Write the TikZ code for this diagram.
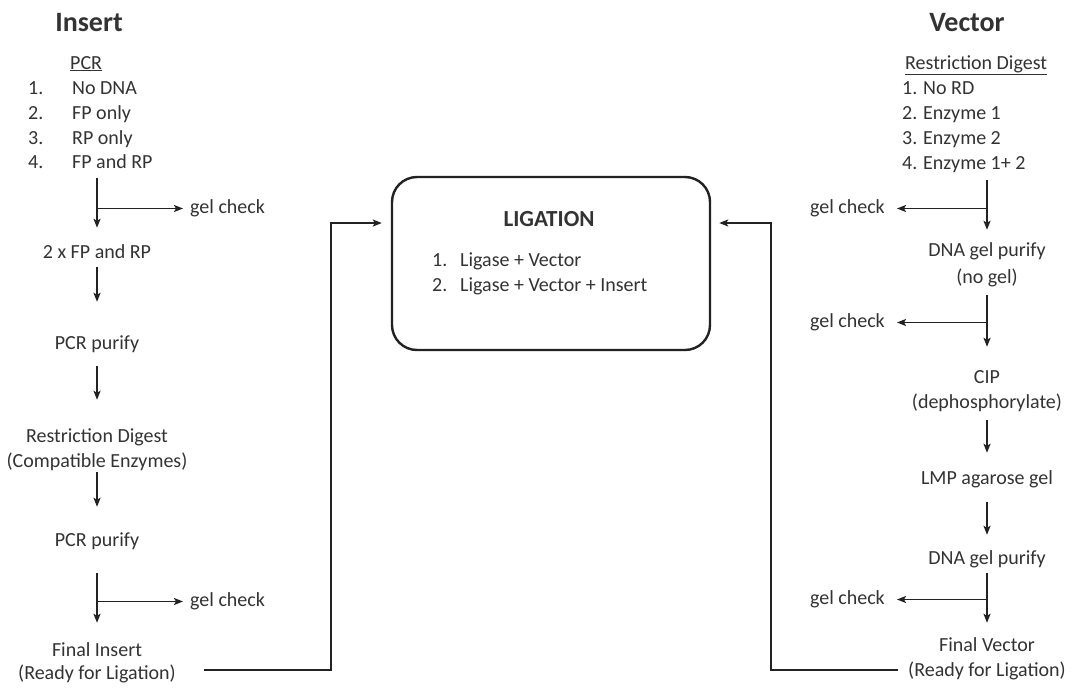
\documentclass[tikz,border=0pt]{standalone}
\usepackage{fontspec}
\setmainfont{Carlito}
\usetikzlibrary{arrows.meta}
\definecolor{tcol}{HTML}{333333}
\definecolor{lcol}{HTML}{222222}
\begin{document}
\begin{tikzpicture}[x=1pt,y=-1pt,
  txt/.style={inner sep=0pt, text height=14pt, text depth=5pt, font=\fontsize{20}{24}\selectfont, text=tcol},
  ttl/.style={inner sep=0pt, font=\fontsize{28}{32}\selectfont\bfseries, text=tcol},
  arr/.style={draw=lcol, line width=1.9pt, -{Stealth[length=9pt,width=7pt,inset=2pt]}},
  box/.style={draw=lcol, line width=2.4pt, rounded corners=25pt, minimum width=318pt, minimum height=173pt}]
\useasboundingbox (0,0) rectangle (1075,688);
\fill[white] (0,0) rectangle (1075,688);
\coordinate (L) at (97,0);
\coordinate (R) at (987,0);
% ---------------- Insert column
\node[ttl, anchor=base] (tI) at (89,31) {Insert};
\node[txt, anchor=base west] (hI) at (70,69) {\underline{PCR}};
\node[txt, anchor=base west] (nI1) at (28,94) {1.};
\node[txt, anchor=base west] (nI2) at (28,119) {2.};
\node[txt, anchor=base west] (nI3) at (28,144) {3.};
\node[txt, anchor=base west] (nI4) at (28,168) {4.};
\node[txt, anchor=base west] (iI1) at (72,94) {No DNA};
\node[txt, anchor=base west] (iI2) at (72,119) {FP only};
\node[txt, anchor=base west] (iI3) at (72,144) {RP only};
\node[txt, anchor=base west] (iI4) at (72,168) {FP and RP};
\node[txt, anchor=base west] (gL1) at (190,213) {gel check};
\node[txt, anchor=base] (fp2) at (97,258) {2 x FP and RP};
\node[txt, anchor=base] (pp1) at (97,349) {PCR purify};
\node[txt, anchor=base] (rd1) at (97,442) {Restriction Digest};
\node[txt, anchor=base] (rd2) at (97,467) {(Compatible Enzymes)};
\node[txt, anchor=base] (pp2) at (97,546) {PCR purify};
\node[txt, anchor=base west] (gL2) at (190,606) {gel check};
\node[txt, anchor=base] (fi1) at (97,656) {Final Insert};
\node[txt, anchor=base] (fi2) at (97,679) {(Ready for Ligation)};
% ---------------- Vector column
\node[ttl, anchor=base] (tV) at (967,31) {Vector};
\node[txt, anchor=base west] (hV) at (905,69) {\underline{Restriction Digest}};
\node[txt, anchor=base west] (nV1) at (902,94) {1.};
\node[txt, anchor=base west] (nV2) at (902,119) {2.};
\node[txt, anchor=base west] (nV3) at (902,144) {3.};
\node[txt, anchor=base west] (nV4) at (902,169) {4.};
\node[txt, anchor=base west] (iV1) at (923,94) {No RD};
\node[txt, anchor=base west] (iV2) at (923,119) {Enzyme 1};
\node[txt, anchor=base west] (iV3) at (923,144) {Enzyme 2};
\node[txt, anchor=base west] (iV4) at (923,169) {Enzyme 1+ 2};
\node[txt, anchor=base east] (gR1) at (885,213) {gel check};
\node[txt, anchor=base] (dg1) at (987,256) {DNA gel purify};
\node[txt, anchor=base] (dg1b) at (987,283) {(no gel)};
\node[txt, anchor=base east] (gR2) at (885,327) {gel check};
\node[txt, anchor=base] (cip) at (987,383) {CIP};
\node[txt, anchor=base] (cipb) at (987,408) {(dephosphorylate)};
\node[txt, anchor=base] (lmp) at (987,484) {LMP agarose gel};
\node[txt, anchor=base] (dg2) at (987,564) {DNA gel purify};
\node[txt, anchor=base east] (gR3) at (885,604) {gel check};
\node[txt, anchor=base] (fv1) at (987,651) {Final Vector};
\node[txt, anchor=base] (fv2) at (987,676) {(Ready for Ligation)};
% ---------------- Ligation box
\node[box] (lig) at (551,263.5) {};
\node[inner sep=0pt, anchor=base, font=\fontsize{23}{27}\selectfont\bfseries, text=tcol] (ligt) at (549,226) {LIGATION};
\node[txt, anchor=base west] (lnum1) at (432,266) {1.};
\node[txt, anchor=base west] (lnum2) at (432,291) {2.};
\node[txt, anchor=base west] (lit1) at (460,266) {Ligase + Vector};
\node[txt, anchor=base west] (lit2) at (460,291) {Ligase + Vector + Insert};
% ---------------- Insert arrows
\draw[arr, shorten <=5pt, shorten >=16pt] (iI4.south -| L) -- (fp2.north -| L);
\draw[arr, shorten >=7pt] (gL1.west -| L) -- (gL1.west);
\draw[arr, shorten <=4pt, shorten >=33pt] (fp2.south -| L) -- (pp1.north -| L);
\draw[arr, shorten <=12pt, shorten >=28pt] (pp1.south -| L) -- (rd1.north -| L);
\draw[arr, shorten <=0pt, shorten >=25pt] (rd2.south -| L) -- (pp2.north -| L);
\draw[arr, shorten <=22pt, shorten >=19pt] (pp2.south -| L) -- (fi1.north -| L);
\draw[arr, shorten >=7pt] (gL2.west -| L) -- (gL2.west);
% ---------------- Vector arrows
\draw[arr, shorten <=6pt, shorten >=12pt] (iV4.south -| R) -- (dg1.north -| R);
\draw[arr, shorten >=12pt] (gR1.east -| R) -- (gR1.east);
\draw[arr, shorten <=7pt, shorten >=22pt] (dg1b.south -| R) -- (cip.north -| R);
\draw[arr, shorten >=12pt] (gR2.east -| R) -- (gR2.east);
\draw[arr, shorten <=7pt, shorten >=17pt] (cipb.south -| R) -- (lmp.north -| R);
\draw[arr, shorten <=13pt, shorten >=15pt] (lmp.south -| R) -- (dg2.north -| R);
\draw[arr, shorten <=4pt, shorten >=14pt] (dg2.south -| R) -- (fv1.north -| R);
\draw[arr, shorten >=12pt] (gR3.east -| R) -- (gR3.east);
% ---------------- to ligation
\coordinate (cL) at (331,223);
\coordinate (cR) at (771,223);
\draw[arr, shorten >=9pt] ([xshift=28pt,yshift=4.5pt]fi2.east) -| (cL) -- (lig.west |- cL);
\draw[arr, shorten >=8pt] ([xshift=-10pt,yshift=1.5pt]fv2.west) -| (cR) -- (lig.east |- cR);
\end{tikzpicture}
\end{document}
